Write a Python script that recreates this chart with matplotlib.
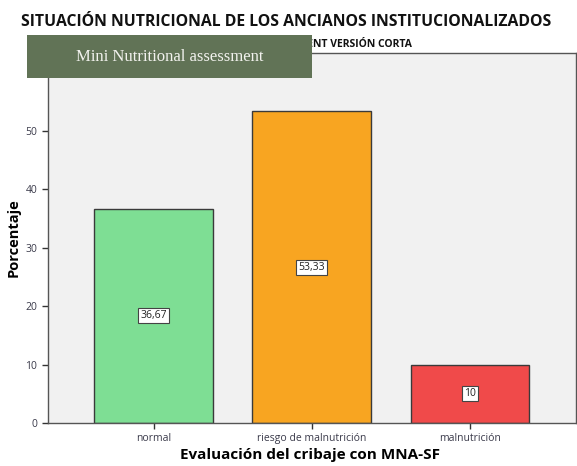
import matplotlib.pyplot as plt
from matplotlib.patches import Rectangle

categories = ['normal', 'riesgo de malnutrición', 'malnutrición']
porcentaje = [36.67, 53.33, 10.0]
etiquetas = ['36,67', '53,33', '10']
colores = ['#7ede94', '#f8a521', '#f04a4a']

titulo = 'SITUACIÓN NUTRICIONAL DE LOS ANCIANOS INSTITUCIONALIZADOS'
subtitulo = 'MINI NUTRITIONAL ASSESSMENT VERSIÓN CORTA'

plt.rcParams['font.family'] = ['Open Sans', 'DejaVu Sans']

fig = plt.figure(figsize=(5.77, 4.66), dpi=100)
ax = fig.add_axes([0.0827, 0.0923, 0.9153, 0.7937])
ax.set_facecolor('#f1f1f1')

x = range(len(categories))
ax.bar(x, porcentaje, width=0.75, color=colores, edgecolor='#3a3a3a', linewidth=1.0, zorder=2)

for i, (v, lab) in enumerate(zip(porcentaje, etiquetas)):
    ax.text(i, v / 2, lab, ha='center', va='center', fontsize=7.5, color='#222222',
            bbox=dict(boxstyle='square,pad=0.2', facecolor='white', edgecolor='#444444', linewidth=0.8),
            zorder=3)

ax.set_xlim(-0.67, 2.67)
ax.set_ylim(0, 63.3)
ax.set_yticks([0, 10, 20, 30, 40, 50])
ax.set_xticks(list(x))
ax.set_xticklabels(categories)
ax.tick_params(axis='both', labelsize=7.5, colors='#333333', labelcolor='#3a3a4a', length=4, width=1)

for s in ax.spines.values():
    s.set_color('#555555')
    s.set_linewidth(1.0)

ax.set_ylabel('Porcentaje', fontsize=10.5, fontweight='bold')
ax.yaxis.set_label_coords(-0.051, 0.5)
ax.set_xlabel('Evaluación del cribaje con MNA-SF', fontsize=11, fontweight='bold')
ax.xaxis.set_label_coords(0.497, -0.068)

fig.text(0.496, 0.953, titulo, ha='center', va='center', fontsize=11.3, fontweight='bold', color='#111111')
fig.text(0.496, 0.905, subtitulo, ha='center', va='center', fontsize=7.5, fontweight='bold', color='#111111')

# recuadro verde superpuesto
fig.patches.append(Rectangle((27 / 577, 1 - 78 / 466), 285 / 577, 43 / 466,
                             transform=fig.transFigure, facecolor='#617356',
                             edgecolor='none', zorder=5))
fig.text(170 / 577, 1 - 57 / 466, 'Mini Nutritional assessment', ha='center', va='center',
         fontsize=12, family='Liberation Serif', color='#f2f2ee', zorder=6)

fig.savefig('out.png', dpi=100)
